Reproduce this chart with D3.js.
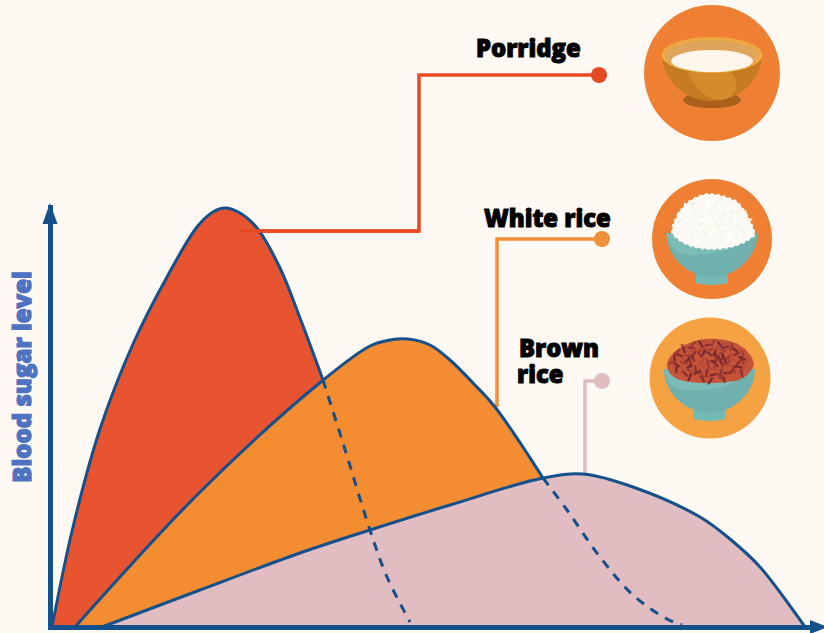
<!DOCTYPE html>
<html>
<head>
<meta charset="utf-8">
<script src="https://cdn.jsdelivr.net/npm/d3@7"></script>
<style>
    html, body { margin: 0; padding: 0; background: #fefaf3; }
    svg { display: block; }
    .label { font-family: "Open Sans", sans-serif; font-weight: 800; fill: #000; stroke: #000; stroke-width: 1px; }
</style>
</head>
<body>
<div id="chart"></div>
<script>
// curves: [time, blood sugar], no units on the original
const porridgeCurve = [[2,0],[23,100],[50,198],[83,283],[117,350],[147,400],[163,415],[175,419],[190,414],[207,399],[230,359],[250,309],[273,247]];
const porridgeTail = [[273,247],[293,184],[320,97],[337,50],[360,5]];
const whiteCurve = [[25,0],[150,135],[272,246],[320,281],[340,287],[358,288],[380,282],[400,267],[423,244],[445,220],[493,149]];
const whiteTail = [[493,149],[517,117],[550,70],[583,32],[617,8],[632,2]];
const brownCurve = [[52,0],[150,37],[250,74],[320,97],[400,122],[493,149],[533,153],[583,140],[650,110],[680,88],[710,60],[755,0]];

const labels = ["Porridge", "White rice", ["Brown", "rice"]];
const yTitle = "Blood sugar level";

// leader lines from each curve to its dot
const porridgeLeader = [[188,396],[369,396],[369,552],[549,552]];
const whiteLeader = [[447,220],[447,388],[552,388]];
const brownLeader = [[535,153],[535,246],[552,246]];

const colors = {
    bg: "#fefaf3",
    axis: "#14508c",
    red: "#e95430",
    redLeader: "#e64a22",
    orange: "#f48c31",
    orangeLeader: "#f0903a",
    pink: "#e1bcc0",
    title: "#4e73c3",
    ring: "#ee7f33",
    ringLight: "#f5a243"
};

const width = 824, height = 633;
const margin = {left: 50, bottom: 6};

const x = d3.scaleLinear().domain([0, 760]).range([margin.left, margin.left + 760]);
const y = d3.scaleLinear().domain([0, 420]).range([height - margin.bottom, height - margin.bottom - 420]);

const svg = d3.select("#chart").append("svg")
    .attr("width", width)
    .attr("height", height);

svg.append("rect").attr("width", width).attr("height", height).attr("fill", colors.bg);

const line = d3.line().x(d => x(d[0])).y(d => y(d[1])).curve(d3.curveCatmullRom.alpha(0.5));
const area = d3.area().x(d => x(d[0])).y0(y(0)).y1(d => y(d[1])).curve(d3.curveCatmullRom.alpha(0.5));
const straight = d3.line().x(d => x(d[0])).y(d => y(d[1]));

// leaders first, the curves sit on top of their ends
[[porridgeLeader, colors.redLeader], [whiteLeader, colors.orangeLeader], [brownLeader, colors.pink]].forEach(([pts, c]) => {
    svg.append("path")
        .attr("d", straight(pts))
        .attr("fill", "none")
        .attr("stroke", c)
        .attr("stroke-width", 3.5);
    const end = pts[pts.length - 1];
    svg.append("circle").attr("cx", x(end[0])).attr("cy", y(end[1])).attr("r", 8).attr("fill", c);
});

// each area covers the tail of the one before it
[[porridgeCurve, colors.red], [whiteCurve, colors.orange], [brownCurve, colors.pink]].forEach(([pts, c]) => {
    svg.append("path").attr("d", area(pts)).attr("fill", c);
    svg.append("path").attr("d", line(pts))
        .attr("fill", "none")
        .attr("stroke", colors.axis)
        .attr("stroke-width", 3);
});

// red leader runs over the red fill
svg.append("path")
    .attr("d", straight(porridgeLeader.slice(0, 2)))
    .attr("stroke", colors.redLeader).attr("stroke-width", 3.5).attr("fill", "none");

[porridgeTail, whiteTail].forEach(pts => {
    svg.append("path").attr("d", line(pts))
        .attr("fill", "none")
        .attr("stroke", colors.axis)
        .attr("stroke-width", 3)
        .attr("stroke-dasharray", "9 8");
});

// axes without ticks, only the arrows
const xAxis = d3.axisBottom(x).tickValues([]).tickSizeOuter(0);
const yAxis = d3.axisLeft(y).tickValues([]).tickSizeOuter(0);

svg.append("g").attr("transform", `translate(0,${y(0)})`).call(xAxis)
    .select(".domain").attr("stroke", colors.axis).attr("stroke-width", 5).attr("stroke-linecap", "square");
svg.append("g").attr("transform", `translate(${x(0)},0)`).call(yAxis)
    .select(".domain").attr("stroke", colors.axis).attr("stroke-width", 5).attr("stroke-linecap", "square");

svg.append("path").attr("d", "M50,203 L57.5,224 L42.5,224 Z").attr("fill", colors.axis);
svg.append("path").attr("d", "M828,627 L810,620 L810,634 Z").attr("fill", colors.axis);

// labels
svg.append("text").attr("class", "label").attr("x", 476).attr("y", 57).attr("font-size", 23.8).text(labels[0]);
svg.append("text").attr("class", "label").attr("x", 484).attr("y", 227).attr("font-size", 23.8).text(labels[1]);
const brownLabel = svg.append("text").attr("class", "label").attr("y", 357).attr("font-size", 23.8);
brownLabel.append("tspan").attr("x", 519).text(labels[2][0]);
brownLabel.append("tspan").attr("x", 517).attr("y", 383).text(labels[2][1]);

svg.append("text")
    .attr("transform", "translate(31,377) rotate(-90)")
    .attr("text-anchor", "middle")
    .attr("font-family", "'Open Sans', sans-serif")
    .attr("font-weight", 800)
    .attr("font-size", 24)
    .attr("fill", colors.title)
    .attr("stroke", colors.title)
    .attr("stroke-width", 1.2)
    .text(yTitle);

// bowl pictures
function grains(g, cx, cy, rx, ry, n, palette, len, w) {
    // sunflower spread keeps the grains even and repeatable
    const golden = Math.PI * (3 - Math.sqrt(5));
    d3.range(n).forEach(i => {
        const r = Math.sqrt((i + 0.5) / n), a = i * golden;
        const px = cx + r * rx * Math.cos(a), py = cy + r * ry * Math.sin(a);
        g.append("line")
            .attr("x1", px - len * Math.cos(i * 1.3)).attr("y1", py - len * Math.sin(i * 1.3))
            .attr("x2", px + len * Math.cos(i * 1.3)).attr("y2", py + len * Math.sin(i * 1.3))
            .attr("stroke", palette[i % palette.length])
            .attr("stroke-width", w)
            .attr("stroke-linecap", "round");
    });
}

function tealBowl(g, cx, top) {
    g.append("path")
        .attr("d", `M${cx - 16},${top + 32} L${cx + 16},${top + 32} L${cx + 16},${top + 43} Q${cx},${top + 47} ${cx - 16},${top + 43} Z`)
        .attr("fill", "#74bab4");
    g.append("path")
        .attr("d", `M${cx - 45.5},${top - 7} C${cx - 46},${top + 16} ${cx - 24},${top + 37} ${cx},${top + 37} C${cx + 24},${top + 37} ${cx + 46},${top + 16} ${cx + 45.5},${top - 7} Z`)
        .attr("fill", "#70b0ae");
    g.append("path")
        .attr("d", `M${cx - 45.5},${top - 7} C${cx - 44},${top + 6} ${cx - 36},${top + 14} ${cx - 22},${top + 15} C${cx},${top + 15} ${cx + 20},${top + 10} ${cx + 32},${top + 3} Z`)
        .attr("fill", "#7bbcb6");
}

// porridge
const bowlA = svg.append("g");
bowlA.append("circle").attr("cx", 712).attr("cy", 73).attr("r", 68).attr("fill", colors.ring);
bowlA.append("ellipse").attr("cx", 712).attr("cy", 100).attr("rx", 29).attr("ry", 8).attr("fill", "#a8601b");
bowlA.append("path").attr("d", "M662,56 C664,84 688,101 712,101 C736,101 760,84 762,56 Z").attr("fill", "#c67a22");
bowlA.append("path").attr("d", "M688,72 C694,88 706,100 722,100 C738,97 741,80 730,72 Z").attr("fill", "#d58a2c");
bowlA.append("ellipse").attr("cx", 712).attr("cy", 55).attr("rx", 50.5).attr("ry", 18).attr("fill", "#f0a740");
bowlA.append("ellipse").attr("cx", 712).attr("cy", 55).attr("rx", 47).attr("ry", 14.5).attr("fill", "#dfa45c");
bowlA.append("ellipse").attr("cx", 712).attr("cy", 61).attr("rx", 41).attr("ry", 11).attr("fill", "#fef6ea");

// white rice
const bowlB = svg.append("g");
bowlB.append("circle").attr("cx", 712).attr("cy", 239).attr("r", 60).attr("fill", colors.ring);
tealBowl(bowlB, 712, 240);
bowlB.append("path")
    .attr("d", "M672,233 C672,222 680,210 687,203 C695,197 704,194 710,194 C722,195 730,198 737,202 C745,210 752,222 755,235 C742,246 725,249 712,249 C696,249 680,244 672,233 Z")
    .attr("fill", "#fbfaf4")
    .attr("stroke", "#fbfaf4")
    .attr("stroke-width", 2)
    .attr("stroke-dasharray", "3 3");
grains(bowlB, 713, 221, 37, 24, 90, ["#f2f1e6", "#ffffff", "#f7f6ee"], 2, 1.6);

// brown rice
const bowlC = svg.append("g");
bowlC.append("circle").attr("cx", 710).attr("cy", 378).attr("r", 60.5).attr("fill", colors.ringLight);
tealBowl(bowlC, 709.5, 376);
bowlC.append("path")
    .attr("d", "M667,365 C668,355 680,346 692,342 C700,338 722,337 735,343 C745,347 754,357 754,365 C750,374 745,378 736,381 C715,384 690,384 677,379 C670,375 667,370 667,365 Z")
    .attr("fill", "#c4553a");
grains(bowlC, 711, 361, 40, 20, 110, ["#8a3030", "#a23c32", "#c4553a", "#7a2a2e", "#b84a36"], 3, 2.4);
</script>
</body>
</html>
